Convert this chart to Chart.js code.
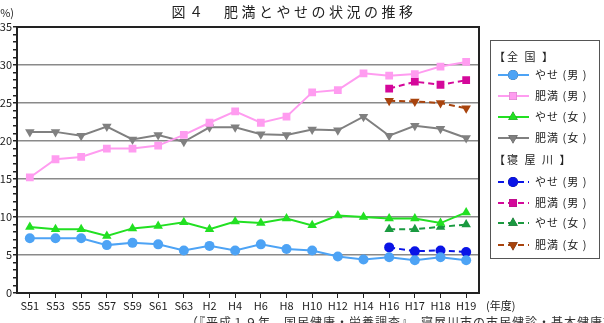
<!DOCTYPE html>
<html>
<head>
<meta charset="utf-8">
<script src="https://cdn.jsdelivr.net/npm/chart.js@4/dist/chart.umd.min.js"></script>
<style>
  html, body { margin: 0; padding: 0; background: #fff; }
  #chart { display: block; }
</style>
</head>
<body>
<canvas id="chart" width="604" height="323"></canvas>
<script>
// 年度
var years = ["S51", "S53", "S55", "S57", "S59", "S61", "S63", "H2", "H4", "H6", "H8", "H10", "H12", "H14", "H16", "H17", "H18", "H19"];

// 全国
var zenkokuYaseM = [7.2, 7.2, 7.2, 6.3, 6.6, 6.4, 5.6, 6.2, 5.6, 6.4, 5.8, 5.6, 4.8, 4.4, 4.7, 4.3, 4.7, 4.3];
var zenkokuHimanM = [15.2, 17.6, 17.9, 19.0, 19.0, 19.4, 20.8, 22.4, 23.9, 22.4, 23.2, 26.4, 26.7, 28.9, 28.6, 28.8, 29.8, 30.4];
var zenkokuYaseF = [8.7, 8.4, 8.4, 7.5, 8.5, 8.8, 9.3, 8.4, 9.4, 9.2, 9.8, 8.9, 10.2, 10.0, 9.8, 9.8, 9.2, 10.6];
var zenkokuHimanF = [21.2, 21.2, 20.7, 21.9, 20.2, 20.8, 19.9, 21.8, 21.8, 20.9, 20.8, 21.5, 21.4, 23.2, 20.7, 22.0, 21.6, 20.4];

// 寝屋川 (H16から)
var neyaYaseM = [null, null, null, null, null, null, null, null, null, null, null, null, null, null, 6.0, 5.5, 5.6, 5.4];
var neyaHimanM = [null, null, null, null, null, null, null, null, null, null, null, null, null, null, 26.9, 27.8, 27.4, 28.0];
var neyaYaseF = [null, null, null, null, null, null, null, null, null, null, null, null, null, null, 8.4, 8.4, 8.7, 9.0];
var neyaHimanF = [null, null, null, null, null, null, null, null, null, null, null, null, null, null, 25.3, 25.2, 25.0, 24.3];

var yTicks = [0, 5, 10, 15, 20, 25, 30, 35];

var FONT = '"Noto Sans CJK JP", "Noto Sans", sans-serif';

function series(label, data, color, style, radius, dashed) {
    return {
        label: label,
        data: data,
        borderColor: color,
        backgroundColor: color,
        pointStyle: style,
        pointRadius: radius,
        pointHoverRadius: radius,
        pointBorderWidth: 0,
        borderWidth: 2,
        borderDash: dashed ? [6, 4] : [],
        fill: false,
        spanGaps: false,
        tension: 0
    };
}

var datasets = [
    series("やせ (男 )", zenkokuYaseM, "#4da3f5", "circle", 5, false),
    series("肥満 (男 )", zenkokuHimanM, "#ff9cf0", "rect", 5.5, false),
    series("やせ (女 )", zenkokuYaseF, "#22e022", "triangle", 5.5, false),
    series("肥満 (女 )", zenkokuHimanF, "#808080", "triangle", 5.5, false),
    series("やせ (男 )", neyaYaseM, "#0a14e6", "circle", 5, true),
    series("肥満 (男 )", neyaHimanM, "#d4089a", "rect", 5.5, true),
    series("やせ (女 )", neyaYaseF, "#1a9a40", "triangle", 5.5, true),
    series("肥満 (女 )", neyaHimanF, "#a8440e", "triangle", 5.5, true)
];
// 肥満(女)は下向き三角
datasets[3].rotation = 180;
datasets[7].rotation = 180;

var extras = {
    id: "extras",
    afterDraw: function(chart) {
        var ctx = chart.ctx;
        var a = chart.chartArea;
        ctx.save();

        // 枠
        ctx.strokeStyle = "#222";
        ctx.lineWidth = 2;
        ctx.beginPath();
        ctx.moveTo(a.left, a.top);
        ctx.lineTo(a.right, a.top);
        ctx.lineTo(a.right, a.bottom);
        ctx.stroke();

        // タイトル
        ctx.fillStyle = "#222";
        ctx.font = "14px " + FONT;
        ctx.textAlign = "center";
        ctx.textBaseline = "middle";
        ctx.letterSpacing = "3.5px";
        ctx.fillText("図４　肥満とやせの状況の推移", 294, 12);
        ctx.letterSpacing = "0px";

        ctx.font = "11px " + FONT;
        ctx.textAlign = "right";
        ctx.fillText("(%)", 14, 13);
        ctx.textAlign = "left";
        ctx.fillText("(年度)", 486, 306);

        // 出典 (下端で切れている)
        ctx.font = "12px " + FONT;
        ctx.textBaseline = "top";
        ctx.fillStyle = "#333";
        ctx.letterSpacing = "1px";
        ctx.fillText("（『平成１９年　国民健康・栄養調査』　寝屋川市の市民健診・基本健康診査）", 186, 316);
        ctx.letterSpacing = "0px";

        // 凡例
        var bx = 490, by = 40, bw = 109, bh = 218;
        ctx.strokeStyle = "#555";
        ctx.lineWidth = 1;
        ctx.strokeRect(bx + 0.5, by + 0.5, bw, bh);

        ctx.fillStyle = "#222";
        ctx.font = "11px " + FONT;
        ctx.textBaseline = "middle";
        ctx.textAlign = "left";
        var rows = [57, 75, 96, 117, 138, 160, 182, 203, 223, 245];
        ctx.letterSpacing = "2px";
        ctx.fillText("【全 国 】", bx + 4, rows[0]);
        ctx.fillText("【寝 屋 川 】", bx + 4, rows[5]);
        ctx.letterSpacing = "0px";
        var order = [1, 2, 3, 4, 6, 7, 8, 9];
        for (var i = 0; i < datasets.length; i++) {
            var ds = datasets[i];
            var y = rows[order[i]];
            ctx.strokeStyle = ds.borderColor;
            ctx.lineWidth = 2;
            ctx.setLineDash(ds.borderDash);
            ctx.beginPath();
            ctx.moveTo(bx + 8, y);
            ctx.lineTo(bx + 39, y);
            ctx.stroke();
            ctx.setLineDash([]);
            Chart.helpers.drawPoint(ctx, {
                pointStyle: ds.pointStyle,
                rotation: ds.rotation || 0,
                radius: ds.pointRadius,
                borderWidth: 0
            }, bx + 23, y);
            ctx.fillStyle = ds.backgroundColor;
            ctx.fill();
            ctx.fillStyle = "#222";
            ctx.letterSpacing = "1px";
            ctx.fillText(ds.label, bx + 45, y);
            ctx.letterSpacing = "0px";
        }
        ctx.restore();
    }
};

new Chart(document.getElementById("chart"), {
    type: "line",
    data: {
        labels: years,
        datasets: datasets
    },
    options: {
        responsive: false,
        animation: false,
        layout: {
            padding: { left: 0, right: 125, top: 27, bottom: 0 }
        },
        plugins: {
            legend: { display: false },
            title: { display: false },
            tooltip: { enabled: false }
        },
        scales: {
            x: {
                offset: true,
                grid: {
                    offset: false,
                    drawOnChartArea: false,
                    drawTicks: true,
                    tickLength: 5,
                    color: "#222",
                    lineWidth: 1
                },
                border: { color: "#222", width: 2 },
                ticks: {
                    color: "#222",
                    font: { family: FONT, size: 11 },
                    padding: 1,
                    maxRotation: 0,
                    autoSkip: false
                },
                afterFit: function(scale) { scale.height = 30; }
            },
            y: {
                min: 0,
                max: 35,
                afterBuildTicks: function(scale) {
                    var t = [];
                    for (var v = 0; v <= 35; v++) t.push({ value: v });
                    scale.ticks = t;
                },
                grid: {
                    color: function(c) {
                        return (c.tick && yTicks.indexOf(c.tick.value) >= 0) ? "#8a8a8a" : "rgba(0,0,0,0)";
                    },
                    tickColor: "#222",
                    tickLength: 4,
                    lineWidth: 1.5
                },
                border: { color: "#222", width: 2 },
                ticks: {
                    color: "#222",
                    font: { family: FONT, size: 11 },
                    padding: 1,
                    autoSkip: false,
                    callback: function(v) { return yTicks.indexOf(v) >= 0 ? String(v) : ""; }
                },
                afterFit: function(scale) { scale.width = 17; }
            }
        }
    },
    plugins: [extras]
});
</script>
</body>
</html>
